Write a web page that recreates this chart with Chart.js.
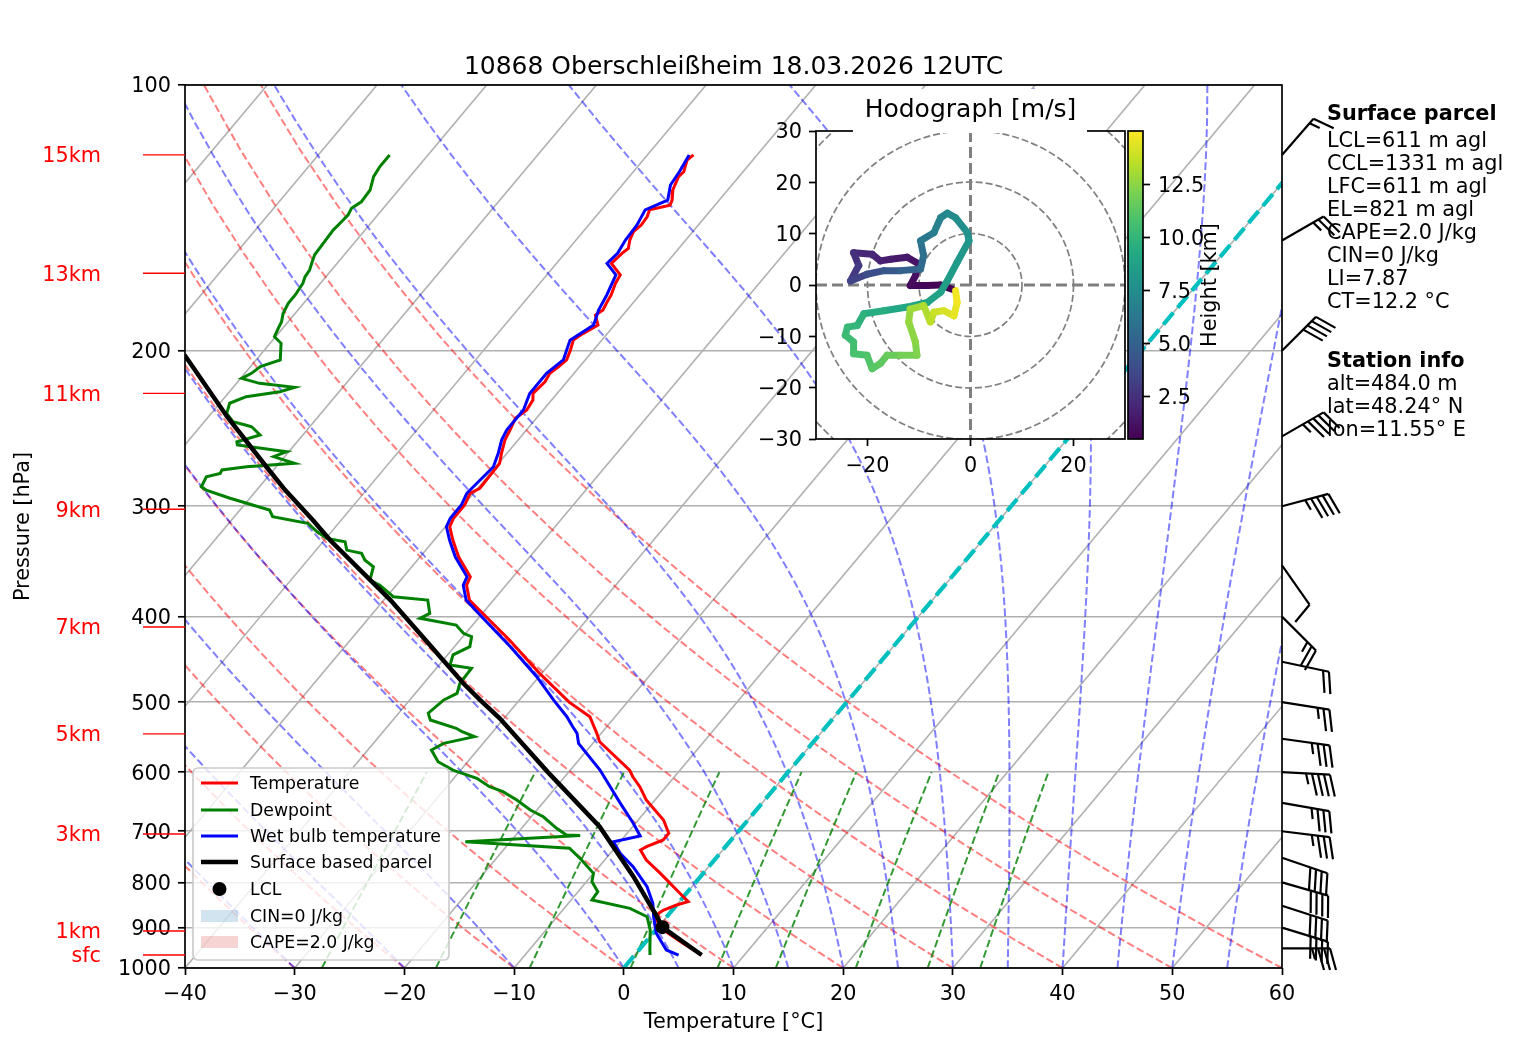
<!DOCTYPE html>
<html><head><meta charset="utf-8">
<script src="https://cdn.jsdelivr.net/npm/chart.js@4.4.1/dist/chart.umd.min.js"></script>
<style>
html,body{margin:0;padding:0;background:#fff;}
#wrap{position:relative;width:1517px;height:1054px;overflow:hidden;}
canvas{position:absolute;}
</style></head><body>
<div id="wrap">
<canvas id="main" width="1517" height="1054" style="left:0;top:0;width:1517px;height:1054px"></canvas>
<canvas id="hodo" width="420" height="410" style="left:740px;top:80px;width:420px;height:410px"></canvas>
<canvas id="cbar" width="120" height="358" style="left:1120px;top:106px;width:120px;height:358px"></canvas>
</div>
<script>
// ---------------- DATA ----------------
const chartTitle = '10868 Oberschleißheim 18.03.2026 12UTC';
const tempTicks = [-40,-30,-20,-10,0,10,20,30,40,50,60];
const pressureTicks = [100,200,300,400,500,600,700,800,900,1000];

const tempP = [120.0,121.6,125.4,127.0,129.8,131.5,135.0,136.8,138.5,141.0,144.1,146.6,149.8,153.1,155.1,159.2,164.1,167.7,172.9,176.7,179.8,182.2,187.0,191.1,194.5,199.6,204.8,208.4,212.1,216.8,223.5,227.4,233.4,238.5,245.9,252.3,261.2,268.2,286.2,290.0,299.0,309.5,316.4,327.6,342.2,360.5,368.5,383.1,400.2,425.1,463.8,500.0,519.3,542.3,554.3,596.8,607.3,623.3,645.2,679.7,703.8,716.1,728.8,735.2,754.6,781.3,823.0,841.1,848.6,859.6,867.1,882.2,905.7,937.6,966.7];
const tempC = [-55.8,-56.0,-55.4,-55.5,-55.2,-55.0,-54.3,-54.1,-55.6,-55.3,-55.2,-55.4,-55.1,-54.6,-54.8,-55.0,-53.3,-53.1,-52.6,-52.4,-52.2,-52.5,-51.5,-52.2,-52.6,-52.1,-51.7,-51.9,-52.2,-52.0,-52.2,-51.7,-51.5,-51.9,-51.5,-51.2,-50.5,-49.9,-49.8,-50.3,-49.9,-49.9,-49.6,-48.3,-46.5,-43.9,-43.6,-42.2,-39.4,-35.5,-30.2,-25.3,-22.3,-20.4,-19.5,-14.6,-13.8,-12.4,-10.8,-7.7,-6.2,-6.2,-7.2,-7.5,-6.2,-3.9,-0.6,0.8,0.0,-0.8,-1.0,-0.7,0.7,3.5,6.1];

const dewP = [120.0,123.7,127.0,131.5,135.6,137.9,140.4,143.4,145.9,151.1,155.7,158.5,162.0,164.9,167.7,172.9,176.7,181.4,185.4,188.6,192.8,196.1,204.8,208.4,212.1,214.9,217.7,220.0,222.5,225.4,229.3,235.4,240.6,242.7,243.8,249.1,253.5,255.7,260.2,263.6,268.2,270.6,272.9,275.4,277.8,285.1,287.6,293.8,303.0,308.3,313.6,320.6,326.2,329.0,336.3,339.2,345.1,351.2,363.6,368.5,376.5,379.8,383.1,396.6,401.8,408.9,417.8,421.5,432.6,442.0,453.8,457.7,475.9,488.6,497.1,514.6,523.7,535.2,540.0,547.0,556.6,566.4,584.0,596.8,609.8,623.3,631.4,645.2,662.3,674.1,694.8,707.0,708.0,719.4,731.8,754.6,781.3,798.5,819.6,837.5,855.9,874.7,905.7,954.1,966.7];
const dewC = [-83.5,-83.5,-83.3,-82.6,-82.5,-82.9,-82.7,-82.8,-82.9,-82.8,-82.7,-82.4,-82.0,-81.9,-81.6,-81.4,-81.4,-81.1,-80.6,-80.4,-80.1,-79.0,-77.8,-79.1,-79.4,-79.9,-77.9,-74.4,-75.4,-78.1,-79.1,-78.6,-77.4,-76.0,-75.3,-73.9,-75.5,-75.2,-70.2,-71.0,-68.6,-72.7,-74.7,-74.6,-75.6,-75.3,-74.6,-71.8,-67.3,-66.5,-62.8,-61.3,-59.9,-58.0,-57.2,-55.6,-54.8,-53.5,-52.8,-51.5,-50.0,-49.4,-46.0,-44.8,-45.3,-41.5,-40.2,-39.2,-38.6,-39.5,-39.0,-36.8,-36.7,-36.2,-36.9,-37.3,-36.6,-33.6,-32.8,-31.3,-33.6,-34.2,-32.7,-30.7,-27.9,-26.1,-24.5,-22.6,-20.6,-18.9,-16.8,-15.4,-14.1,-24.1,-14.1,-12.1,-10.0,-9.5,-8.2,-8.1,-4.0,-1.8,-0.5,1.0,1.4];

const wetP = [120.0,125.4,129.8,135.0,138.5,144.1,149.8,155.1,159.2,164.1,172.9,179.8,187.0,194.5,204.8,212.1,223.5,233.4,245.9,252.3,261.2,270.6,290.0,299.0,309.5,316.4,327.6,342.2,360.5,368.5,383.1,400.2,432.6,467.9,497.1,519.3,533.0,542.3,556.6,596.8,650.9,685.6,708.7,719.4,741.5,767.8,808.9,844.7,874.7,913.4,954.1,966.7];
const wetC = [-56.2,-55.8,-55.6,-54.7,-56.0,-55.6,-55.5,-55.2,-55.4,-53.7,-53.0,-52.6,-51.9,-52.9,-52.0,-52.5,-52.5,-51.8,-51.8,-51.5,-50.8,-50.2,-50.6,-50.2,-50.2,-49.9,-48.6,-46.8,-44.2,-43.9,-42.5,-39.8,-34.9,-30.2,-26.9,-24.4,-23.1,-22.2,-21.3,-17.3,-12.9,-10.2,-8.6,-10.6,-9.1,-6.9,-4.1,-2.3,-1.2,0.3,2.5,4.0];

const parcelP = [190.0,202.2,237.5,270.6,287.6,310.9,327.6,383.1,417.8,475.9,497.1,521.5,600.0,691.8,788.0,874.7,899.0,966.7];
const parcelC = [-89.9,-86.9,-78.3,-70.9,-67.4,-62.6,-59.5,-49.4,-44.2,-36.4,-33.6,-30.4,-21.9,-13.0,-6.1,-0.9,0.4,6.1];
const lclP = [899.0];
const lclC = [0.4];

const barbP   = [120,150,200,250,300,350,400,450,500,550,600,650,700,750,800,850,900,950];
const barbDir = [41,60,45,60,75,145,135,102,99,98,93,100,97,109,106,108,107,90];
const barbKt  = [15,25,40,45,45,10,25,20,25,35,45,35,35,40,40,40,40,35];

const hodoU = [-3.6,-5.8,-8.4,-11.7,-10.7,-10.0,-12.3,-15.5,-17.5,-19.1,-22.7,-21.7,-23.3,-20.1,-16.8,-13.6,-9.7,-9.1,-9.7,-7.1,-5.8,-4.5,-2.9,-0.6,-0.3,-2.6,-4.5,-5.8,-8.4,-12.3,-16.8,-20.7,-22.0,-23.9,-24.3,-22.7,-22.7,-20.1,-19.1,-17.5,-16.2,-13.6,-10.4,-10.7,-12.0,-11.7,-9.1,-7.8,-7.1,-5.2,-3.2,-2.6,-2.9];
const hodoV = [-0.8,0.0,-0.1,-0.1,1.8,4.1,5.4,5.0,4.7,6.0,6.3,3.8,0.8,2.1,2.8,2.8,3.1,5.7,8.6,10.2,13.1,14.0,13.1,10.2,8.6,4.4,0.8,-1.4,-3.4,-4.3,-5.0,-5.6,-7.9,-8.2,-9.8,-11.1,-13.4,-13.7,-16.3,-15.3,-13.7,-13.7,-13.7,-11.1,-7.2,-4.7,-4.0,-7.2,-5.3,-5.0,-6.0,-3.4,-1.1];
const hodoH = [0.5,0.6,0.7,0.8,1.0,1.2,1.4,1.6,1.8,2.0,2.3,2.7,3.2,3.7,4.2,4.7,5.3,5.7,6.1,6.5,6.9,7.2,7.4,7.7,7.9,8.2,8.5,8.7,8.9,9.1,9.3,9.6,9.9,10.1,10.3,10.5,10.7,10.9,11.1,11.3,11.5,11.8,12.1,12.4,12.6,12.8,13.1,13.4,13.7,14.0,14.3,14.6,14.9];
const hodoTicksU = [-20,0,20];
const hodoTicksV = [-30,-20,-10,0,10,20,30];
const heightTicks = [2.5,5.0,7.5,10.0,12.5];
const heightRange = [0.5,15.0];

const heightLabels = ['15km','13km','11km','9km','7km','5km','3km','1km','sfc'];
const heightLabelP = [120.0,163.4,223.5,302.3,411.0,543.0,705.0,908.0,966.7];

const parcelInfo = ['LCL=611 m agl','CCL=1331 m agl','LFC=611 m agl','EL=821 m agl','CAPE=2.0 J/kg','CIN=0 J/kg','LI=7.87','CT=12.2 °C'];
const stationInfo = ['alt=484.0 m','lat=48.24° N','lon=11.55° E'];
const legendLabels = ['Temperature','Dewpoint','Wet bulb temperature','Surface based parcel','LCL','CIN=0 J/kg','CAPE=2.0 J/kg'];

// reference-line parameters (thermodynamic diagram background)
const dryT0 = [-40,-30,-20,-10,0,10,20,30,40,50,60];
const moistT0 = [-40,-30,-20,-10,0,5,10,15,20,25,30,35,40,45,50,55,60];
const mixRatios = [0.0004,0.001,0.002,0.004,0.007,0.01,0.016,0.024,0.032];
const isoT = [-100,-90,-80,-70,-60,-50,-40,-30,-20,-10,0,10,20,30,40,50,60];

// ---------------- HELPERS ----------------
const K = 67.5; // skew in °C per decade of pressure
const FONT = 'DejaVu Sans';
const TY = 2; // text baseline nudge
const skewX = (T, p) => T + K * Math.log10(1000 / p);
const toPts = (pArr, tArr) => pArr.map((p, i) => ({x: skewX(tArr[i], p), y: p}));
const fmtMinus = v => (v < 0 ? '\u2212' + Math.abs(v) : String(v));
const linspace = (a, b, n) => Array.from({length: n}, (_, i) => a + (b - a) * i / (n - 1));

const Rd = 287.04749, Cp = 1004.6662, Lv = 2.50084e6, EPS = 0.6219569;
const satVap = Tk => 6.112 * Math.exp(17.67 * (Tk - 273.15) / (Tk - 29.65));
function moistGrad(p, T) {
  const es = satVap(T), rs = EPS * es / (p - es);
  return (Rd * T + Lv * rs) / (Cp + Lv * Lv * rs * EPS / (Rd * T * T)) / p;
}
function moistLine(t0) {
  let T = t0 + 273.15, p = 1000; const n = 90, dp = (100 - 1000) / n;
  const pts = [{x: skewX(T - 273.15, p), y: p}];
  for (let i = 0; i < n; i++) {
    const k1 = moistGrad(p, T), k2 = moistGrad(p + dp / 2, T + dp / 2 * k1),
          k3 = moistGrad(p + dp / 2, T + dp / 2 * k2), k4 = moistGrad(p + dp, T + dp * k3);
    T += dp / 6 * (k1 + 2 * k2 + 2 * k3 + k4); p += dp;
    pts.push({x: skewX(T - 273.15, p), y: p});
  }
  return pts;
}
function dryLine(t0) {
  return linspace(1000, 100, 50).map(p => ({x: skewX((t0 + 273.15) * Math.pow(p / 1000, 0.28571) - 273.15, p), y: p}));
}
function mixLine(w) {
  return linspace(1000, 600, 30).map(p => {
    const e = p * w / (EPS + w), l = Math.log(e / 6.112);
    return {x: skewX(243.5 * l / (17.67 - l), p), y: p};
  });
}
const VIR = ['#440154','#482475','#414487','#355f8d','#2a788e','#21918c','#22a884','#44bf70','#7ad151','#bddf26','#fde725'];
function viridis(t) {
  t = Math.max(0, Math.min(1, t));
  const s = t * 10, i = Math.min(9, Math.floor(s)), f = s - i;
  const a = VIR[i], b = VIR[i + 1];
  const c = k => Math.round(parseInt(a.substr(k, 2), 16) * (1 - f) + parseInt(b.substr(k, 2), 16) * f);
  return 'rgb(' + c(1) + ',' + c(3) + ',' + c(5) + ')';
}
const hColor = h => viridis((h - heightRange[0]) / (heightRange[1] - heightRange[0]));

Chart.defaults.font.family = FONT;
Chart.defaults.font.size = 20.8;
Chart.defaults.color = '#000';

// ---------------- MAIN SKEW-T ----------------
const line = (data, color, width, dash, order, extra) => Object.assign({
  data, showLine: true, pointRadius: 0, borderColor: color, borderWidth: width,
  borderDash: dash || [], fill: false, tension: 0, order
}, extra || {});

const datasets = [];
isoT.forEach(T => datasets.push(line([{x: T, y: 1000}, {x: T + K, y: 100}], '#b0b0b0', 1.6, null, 20)));
dryT0.forEach(t => datasets.push(line(dryLine(t), 'rgba(255,0,0,0.5)', 2, [7.7, 3.3], 19)));
moistT0.forEach(t => datasets.push(line(moistLine(t), 'rgba(0,0,255,0.5)', 2, [7.7, 3.3], 18)));
mixRatios.forEach(w => datasets.push(line(mixLine(w), 'rgba(0,128,0,0.8)', 2, [7.7, 3.3], 17)));
datasets.push(line([{x: 0, y: 1000}, {x: K, y: 100}], '#00bfbf', 4.2, [15.4, 6.7], 6));
const IDX_TEMP = datasets.length;
datasets.push(line(toPts(tempP, tempC), '#ff0000', 3, null, 5));
datasets.push(line(toPts(dewP, dewC), '#008000', 3, null, 4));
datasets.push(line(toPts(wetP, wetC), '#0000ff', 3, null, 3));
datasets.push(line(toPts(parcelP, parcelC), '#000000', 4.5, null, 2));
datasets.push({data: toPts(lclP, lclC), showLine: false, pointRadius: 7, pointBackgroundColor: '#000', pointBorderWidth: 0, order: 1});

function drawBarb(ctx, x0, y0, dirDeg, spd) {
  const L = 48, sp = 0.125 * L, fh = 0.45 * L, fw = 0.25 * L;
  const th = dirDeg * Math.PI / 180;
  const ax = Math.sin(th), ay = -Math.cos(th), px = Math.cos(th), py = Math.sin(th);
  const pt = o => [x0 + ax * o, y0 + ay * o];
  ctx.beginPath(); ctx.moveTo(x0, y0); const tp = pt(L); ctx.lineTo(tp[0], tp[1]); ctx.stroke();
  let s = Math.round(spd / 5) * 5;
  const nf = Math.floor(s / 50); s -= nf * 50;
  const nb = Math.floor(s / 10); s -= nb * 10;
  const half = s >= 5;
  let off = L;
  for (let i = 0; i < nf; i++) {
    const a = pt(off), m = pt(off - fw / 2), b = pt(off - fw);
    ctx.beginPath(); ctx.moveTo(a[0], a[1]); ctx.lineTo(m[0] + fh * px, m[1] + fh * py); ctx.lineTo(b[0], b[1]); ctx.closePath(); ctx.fill();
    off -= fw + sp;
  }
  for (let i = 0; i < nb; i++) {
    const a = pt(off), b = pt(off + fw / 2);
    ctx.beginPath(); ctx.moveTo(a[0], a[1]); ctx.lineTo(b[0] + fh * px, b[1] + fh * py); ctx.stroke();
    off -= sp;
  }
  if (half) {
    if (off === L) off -= 1.5 * sp;
    const a = pt(off), b = pt(off + fw / 4);
    ctx.beginPath(); ctx.moveTo(a[0], a[1]); ctx.lineTo(b[0] + fh / 2 * px, b[1] + fh / 2 * py); ctx.stroke();
  }
}

const extras = {
  id: 'skewtExtras',
  beforeDraw(chart) {
    const c = chart.ctx; c.save(); c.fillStyle = '#fff'; c.fillRect(0, 0, chart.width, chart.height); c.restore();
  },
  beforeDatasetDraw(chart, args) {
    if (args.index !== IDX_TEMP) return;
    const c = chart.ctx, xs = chart.scales.x, ys = chart.scales.y;
    const poly = [];
    parcelP.forEach((p, i) => { if (p >= lclP[0]) poly.push([skewX(parcelC[i], p), p]); });
    const tp = [];
    tempP.forEach((p, i) => { if (p >= lclP[0]) tp.push([skewX(tempC[i], p), p]); });
    tp.reverse().forEach(q => poly.push(q));
    c.save(); c.fillStyle = 'rgba(214,39,40,0.2)'; c.beginPath();
    poly.forEach((q, i) => { const X = xs.getPixelForValue(q[0]), Y = ys.getPixelForValue(q[1]); i ? c.lineTo(X, Y) : c.moveTo(X, Y); });
    c.closePath(); c.fill(); c.restore();
  },
  afterDatasetsDraw(chart) {
    const c = chart.ctx;
    c.save();
    // legend
    const bx = 193, by = 768, bw = 256, bh = 192, r = 5;
    c.beginPath();
    c.moveTo(bx + r, by); c.lineTo(bx + bw - r, by); c.arcTo(bx + bw, by, bx + bw, by + r, r);
    c.lineTo(bx + bw, by + bh - r); c.arcTo(bx + bw, by + bh, bx + bw - r, by + bh, r);
    c.lineTo(bx + r, by + bh); c.arcTo(bx, by + bh, bx, by + bh - r, r);
    c.lineTo(bx, by + r); c.arcTo(bx, by, bx + r, by, r); c.closePath();
    c.fillStyle = 'rgba(255,255,255,0.8)'; c.fill();
    c.strokeStyle = '#cccccc'; c.lineWidth = 1.7; c.stroke();
    const ys = [783, 810, 836, 862, 889, 916, 942];
    const cols = ['#ff0000', '#008000', '#0000ff', '#000000'];
    const wid = [3, 3, 3, 4.5];
    for (let i = 0; i < 4; i++) {
      c.beginPath(); c.strokeStyle = cols[i]; c.lineWidth = wid[i]; c.moveTo(201, ys[i]); c.lineTo(238, ys[i]); c.stroke();
    }
    c.fillStyle = '#000'; c.beginPath(); c.arc(219.5, ys[4], 7, 0, 2 * Math.PI); c.fill();
    c.fillStyle = 'rgba(31,119,180,0.2)'; c.fillRect(201, ys[5] - 6, 37, 12);
    c.fillStyle = 'rgba(214,39,40,0.2)'; c.fillRect(201, ys[6] - 6, 37, 12);
    c.fillStyle = '#000'; c.font = '17.3px "' + FONT + '"'; c.textBaseline = 'middle'; c.textAlign = 'left';
    legendLabels.forEach((t, i) => c.fillText(t, 250, ys[i] + TY));
    c.restore();
  },
  afterDraw(chart) {
    const c = chart.ctx, a = chart.chartArea, ys = chart.scales.y;
    c.save();
    // spines
    c.strokeStyle = '#000'; c.lineWidth = 1.7;
    c.strokeRect(a.left, a.top, a.right - a.left, a.bottom - a.top);
    // height labels
    c.font = '20.8px "' + FONT + '"'; c.fillStyle = '#ff0000'; c.strokeStyle = '#ff0000'; c.lineWidth = 1.4;
    c.textAlign = 'right'; c.textBaseline = 'middle';
    heightLabels.forEach((t, i) => {
      const Y = ys.getPixelForValue(heightLabelP[i]);
      c.beginPath(); c.moveTo(143, Y); c.lineTo(a.left, Y); c.stroke();
      c.fillText(t, 101, Y + TY);
    });
    // info text
    c.fillStyle = '#000'; c.textAlign = 'left';
    c.font = 'bold 20.8px "' + FONT + '"'; c.fillText('Surface parcel', 1327, 113 + TY);
    c.font = '20.8px "' + FONT + '"';
    parcelInfo.forEach((t, i) => c.fillText(t, 1327, 140 + i * 23.0 + TY));
    c.font = 'bold 20.8px "' + FONT + '"'; c.fillText('Station info', 1327, 360 + TY);
    c.font = '20.8px "' + FONT + '"';
    stationInfo.forEach((t, i) => c.fillText(t, 1327, 383 + i * 22.7 + TY));
    // barbs
    c.strokeStyle = '#000'; c.fillStyle = '#000'; c.lineWidth = 2.2; c.lineCap = 'butt';
    barbP.forEach((p, i) => drawBarb(c, a.right, ys.getPixelForValue(p), barbDir[i], barbKt[i]));
    c.restore();
  }
};

new Chart(document.getElementById('main'), {
  type: 'scatter',
  data: {datasets},
  options: {
    responsive: false, animation: false, devicePixelRatio: 1, events: [],
    layout: {padding: {left: 0, right: 235, top: 0, bottom: 0}},
    plugins: {
      legend: {display: false}, tooltip: {enabled: false},
      title: {display: true, text: chartTitle, fullSize: false, font: {size: 25, weight: 'normal'}, padding: {top: 52, bottom: 3}, color: '#000'}
    },
    scales: {
      x: {
        type: 'linear', position: 'bottom', min: -40, max: 60,
        afterBuildTicks: s => { s.ticks = tempTicks.map(v => ({value: v})); },
        afterFit: s => { s.height = 86; },
        ticks: {callback: v => fmtMinus(v), padding: 7, autoSkip: false, maxRotation: 0, color: '#000'},
        grid: {drawOnChartArea: false, drawTicks: true, tickLength: 7, tickColor: '#000', tickWidth: 1.7},
        border: {display: false},
        title: {display: true, text: 'Temperature [°C]', padding: {top: 0, bottom: 18.5}, color: '#000'}
      },
      y: {
        type: 'logarithmic', position: 'left', min: 100, max: 1000, reverse: true,
        afterBuildTicks: s => { s.ticks = pressureTicks.map(v => ({value: v})); },
        afterFit: s => { s.width = 185; },
        ticks: {callback: v => String(v), padding: 7, autoSkip: false, color: '#000', labelOffset: TY},
        grid: {color: '#b0b0b0', lineWidth: 1.6, drawTicks: true, tickLength: 7, tickColor: '#000', tickWidth: 1.7},
        border: {display: false},
        title: {display: true, text: 'Pressure [hPa]', padding: {top: 11.5, bottom: 0}, color: '#000'}
      }
    }
  },
  plugins: [extras]
});

// ---------------- HODOGRAPH ----------------
const hodoExtras = {
  id: 'hodoExtras',
  beforeDraw(chart) {
    const c = chart.ctx, a = chart.chartArea;
    c.save(); c.fillStyle = '#fff'; c.fillRect(a.left, a.top, a.right - a.left, a.bottom - a.top); c.restore();
  },
  beforeDatasetsDraw(chart) {
    const c = chart.ctx, a = chart.chartArea, xs = chart.scales.x, ys = chart.scales.y;
    const cx = xs.getPixelForValue(0), cy = ys.getPixelForValue(0);
    c.save();
    c.beginPath(); c.rect(a.left, a.top, a.right - a.left, a.bottom - a.top); c.clip();
    c.strokeStyle = '#808080'; c.lineWidth = 1.7; c.setLineDash([7, 3]);
    [10, 20, 30, 40].forEach(rv => {
      const rp = xs.getPixelForValue(rv) - cx;
      c.beginPath(); c.arc(cx, cy, rp, 0, 2 * Math.PI); c.stroke();
    });
    c.lineWidth = 3; c.setLineDash([11, 5]);
    c.beginPath(); c.moveTo(cx, a.top); c.lineTo(cx, a.bottom); c.stroke();
    c.beginPath(); c.moveTo(a.left, cy); c.lineTo(a.right, cy); c.stroke();
    c.restore();
  },
  afterDraw(chart) {
    const c = chart.ctx, a = chart.chartArea;
    c.save();
    c.strokeStyle = '#000'; c.lineWidth = 1.7;
    c.strokeRect(a.left, a.top, a.right - a.left, a.bottom - a.top);
    c.fillStyle = '#fff'; c.fillRect(113, 9, 234, 44);
    c.fillStyle = '#000'; c.font = '25px "' + FONT + '"'; c.textAlign = 'center'; c.textBaseline = 'middle';
    c.fillText('Hodograph [m/s]', (a.left + a.right) / 2, 28 + TY);
    c.restore();
  }
};

new Chart(document.getElementById('hodo'), {
  type: 'scatter',
  data: {datasets: [{
    data: hodoU.map((u, i) => ({x: u, y: hodoV[i]})),
    showLine: true, pointRadius: 0, borderWidth: 7, borderColor: hColor(hodoH[0]),
    borderCapStyle: 'round', borderJoinStyle: 'round',
    segment: {borderColor: ctx => hColor((hodoH[ctx.p0DataIndex] + hodoH[ctx.p1DataIndex]) / 2)}
  }]},
  options: {
    responsive: false, animation: false, devicePixelRatio: 1, events: [],
    layout: {padding: {left: 0, right: 35, top: 51, bottom: 0}},
    plugins: {legend: {display: false}, tooltip: {enabled: false}},
    scales: {
      x: {
        type: 'linear', min: -30, max: 30,
        afterBuildTicks: s => { s.ticks = hodoTicksU.map(v => ({value: v})); },
        afterFit: s => { s.height = 51; },
        ticks: {callback: v => fmtMinus(v), padding: 8, autoSkip: false, maxRotation: 0, color: '#000'},
        grid: {drawOnChartArea: false, drawTicks: true, tickLength: 7, tickColor: '#000', tickWidth: 1.7},
        border: {display: false}
      },
      y: {
        type: 'linear', min: -30, max: 30,
        afterBuildTicks: s => { s.ticks = hodoTicksV.map(v => ({value: v})); },
        afterFit: s => { s.width = 76; },
        ticks: {callback: v => fmtMinus(v), padding: 7, autoSkip: false, color: '#000', labelOffset: TY},
        grid: {drawOnChartArea: false, drawTicks: true, tickLength: 7, tickColor: '#000', tickWidth: 1.7},
        border: {display: false}
      }
    }
  },
  plugins: [hodoExtras]
});

// ---------------- COLORBAR ----------------
const cbarExtras = {
  id: 'cbarExtras',
  afterDraw(chart) {
    const c = chart.ctx, a = chart.chartArea, ys = chart.scales.y;
    c.save();
    for (let y = Math.floor(a.top); y < a.bottom; y++) {
      c.fillStyle = hColor(ys.getValueForPixel(y + 0.5));
      c.fillRect(a.left, y, a.right - a.left, 1);
    }
    c.strokeStyle = '#000'; c.lineWidth = 1.7;
    c.strokeRect(a.left, a.top, a.right - a.left, a.bottom - a.top);
    c.translate(91, 179); c.rotate(-Math.PI / 2);
    c.fillStyle = '#000'; c.font = '20.8px "' + FONT + '"'; c.textAlign = 'center'; c.textBaseline = 'middle';
    c.fillText('Height [km]', 0, 0);
    c.restore();
  }
};

new Chart(document.getElementById('cbar'), {
  type: 'scatter',
  data: {datasets: []},
  options: {
    responsive: false, animation: false, devicePixelRatio: 1, events: [],
    layout: {padding: {left: 8, right: 0, top: 25, bottom: 25}},
    plugins: {legend: {display: false}, tooltip: {enabled: false}},
    scales: {
      x: {type: 'linear', display: false, min: 0, max: 1},
      y: {
        type: 'linear', position: 'right', min: heightRange[0], max: heightRange[1],
        afterBuildTicks: s => { s.ticks = heightTicks.map(v => ({value: v})); },
        afterFit: s => { s.width = 97; },
        ticks: {callback: v => v.toFixed(1), padding: 8, autoSkip: false, color: '#000', labelOffset: TY},
        grid: {drawOnChartArea: false, drawTicks: true, tickLength: 7, tickColor: '#000', tickWidth: 1.7},
        border: {display: false}
      }
    }
  },
  plugins: [cbarExtras]
});
</script>
</body></html>
